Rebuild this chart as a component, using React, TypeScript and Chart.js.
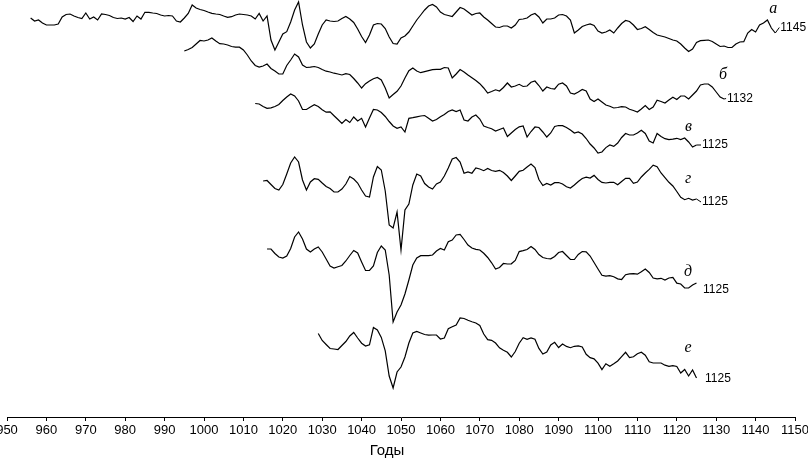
import React, { useEffect, useRef } from "react";
import { Chart, registerables } from "chart.js";

Chart.register(...registerables);

// ---- axis ----
const YEAR_MIN = 950;
const YEAR_MAX = 1150;
const YEAR_STEP = 10;
const AXIS_TITLE = "Годы";

// ---- series (hidden vertical axis, values increase downward; stacked chronologies) ----
const SERIES_LETTERS = ["а", "б", "в", "г", "д", "е"];
const SERIES_END_LABELS = ["1145", "1132", "1125", "1125", "1125", "1125"];
const SERIES_STARTS = [956, 995, 1013, 1015, 1016, 1029];

const SERIES_A = [
  18, 21, 20, 23, 25, 25, 25, 24, 17, 14.5,
  14, 16, 17.5, 18.5, 13, 19, 17, 20, 14, 14.5,
  15.5, 17.5, 18.5, 18, 19, 17.5, 21.5, 16, 19, 12.3,
  12.3, 13, 13.5, 15, 16, 15.5, 16, 21, 22, 18,
  13.5, 5, 8, 9.5, 10.5, 12, 13.3, 14, 14.5, 16,
  17.3, 16.7, 15, 14, 14.5, 15, 16, 19, 13.5, 21,
  16, 40, 50, 42, 34, 31.7, 22, 10, 2, 25,
  42, 48, 44, 34, 25, 20, 21, 21.5, 21, 18.5,
  16.5, 19, 22.5, 29, 36.5, 42.5, 35, 25, 23.5, 24,
  28.5, 37, 43.5, 44, 38, 36, 32, 26, 20, 15,
  10, 6, 4.5, 7, 12, 14.5, 15.5, 16.5, 12, 7.5,
  9, 12, 15, 13.5, 13, 17, 20, 23.5, 27, 27.5,
  26, 26, 28, 25, 19.5, 19, 18, 15, 13.5, 17,
  23, 19, 19, 18, 15, 14.5, 16, 20, 33, 30,
  26.5, 25, 24, 25.5, 31, 33, 32, 30, 33, 28,
  23.5, 20.5, 21.5, 25, 29.5, 28.5, 26.7, 29.5, 32.5, 35,
  36, 37, 38.5, 40, 41, 44, 48, 51.5, 49, 42.5,
  40.7, 40.3, 40, 41.5, 44, 46.5, 46, 47.5, 47.5, 44,
  42, 41.7, 33, 29.5, 32, 25, 23, 20, 28, 33,
];

const SERIES_B = [
  51, 49.5, 47.5, 44, 40.5, 41, 40, 38, 41, 43.7,
  44, 45, 46.5, 47.2, 47.2, 50, 55, 61, 65.5, 67,
  66, 64, 68.5, 71, 74, 74, 65.5, 60, 54, 57,
  65, 67.5, 67.2, 66.5, 67.5, 69.5, 71.2, 72, 73.2, 74,
  75, 73.7, 74.5, 78.5, 83, 88, 83.7, 81, 78.7, 77.5,
  80, 88, 98, 94.5, 91.3, 86, 78, 70.7, 68, 71,
  72.7, 71.7, 70.7, 69.7, 69.4, 69.4, 67.5, 68, 78, 74,
  69.5, 72, 75, 77.8, 80.5, 83.7, 88, 93, 91.5, 89.8,
  91, 87.5, 83, 87, 86, 84.3, 86.5, 86, 82.3, 81,
  85.5, 91, 87, 88.5, 89, 84.2, 83, 86, 93, 94,
  92, 89.5, 91, 99, 101.5, 99, 102, 105, 106.3, 108,
  107.5, 106.7, 107, 109.2, 110.5, 112, 109, 105.5, 109.5, 107,
  100.2, 101.5, 103, 100, 97.2, 99.5, 96, 96, 99, 95,
  91, 85, 84, 84, 87, 92, 97, 99,
];

const SERIES_C = [
  103.5, 104, 106.5, 108.3, 107.8, 106.5, 104.5, 100.5, 97, 94,
  96, 101, 109.5, 109.5, 107, 104.7, 106.5, 109.7, 112.2, 111.8,
  115.7, 119.5, 123.5, 119.5, 122.5, 117, 121, 118.3, 127, 118,
  109.5, 110, 112.5, 116.5, 121.5, 126, 128.3, 127, 132, 118.3,
  117.7, 116.8, 116, 115.5, 118.3, 121, 119.5, 116.7, 114.5, 111.5,
  110, 111.5, 110, 120, 121, 117, 115, 119, 126, 127.5,
  128.7, 131, 129.5, 128, 136.5, 133, 129.5, 126.8, 126, 137,
  131.5, 127, 127.5, 132, 137, 133, 126.5, 125.5, 125.7, 127.5,
  130, 133, 132, 134, 138.5, 144, 148, 153, 152, 147.6,
  145, 146.4, 143, 137.5, 133.5, 135, 135, 133, 130.2, 133.5,
  141, 143, 133.5, 136.5, 138.7, 139.7, 139.2, 138.3, 139.6, 138,
  142, 147, 145,
];

const SERIES_D = [
  181, 180.5, 184.5, 188.5, 190, 184.5, 174, 163, 157, 162,
  180, 190, 182, 178.7, 179.3, 183, 186.5, 188.5, 192, 192,
  189, 184, 176.5, 179, 183, 190, 196, 197, 177, 166.5,
  170, 191, 225, 228, 212, 250, 210, 204, 185, 174,
  176, 183.5, 187, 189, 184, 182, 176, 168, 159, 157.5,
  162, 173.3, 172, 173.2, 168, 169, 170.7, 168.5, 170.5, 171.3,
  170.3, 172.5, 176, 180.5, 176, 171.3, 170.3, 167, 164, 167.5,
  179.5, 185.5, 183.5, 185, 182.7, 182.5, 184, 186.8, 188, 185,
  181.5, 178.5, 177.2, 178, 175.4, 179.5, 182.4, 183, 182.3, 182.3,
  184.8, 181.5, 178.4, 178.4, 183.3, 182, 177, 173, 169.4, 165.2,
  166.8, 173, 177.7, 182.3, 186, 191.5, 197.3, 199.7, 198.3, 200,
  199,
];

const SERIES_E = [
  249, 249, 253.5, 257, 258, 256, 248.5, 237, 232, 239,
  249, 252, 249, 247, 252, 259, 266, 268, 266.7, 265.5,
  261, 255.5, 250.5, 253, 262, 270.5, 270.5, 266, 252.5, 246,
  250, 275, 322, 312, 305, 294, 280, 265, 258, 255.7,
  255.7, 255.7, 255, 251, 248.5, 250, 241.7, 240, 235, 234.5,
  239.5, 245, 248, 249.3, 250, 253.3, 257.5, 262.8, 269, 267.5,
  263.5, 264, 263.8, 260.5, 251.6, 250.6, 249.5, 246.5, 249.5, 254.5,
  257.5, 258.5, 258.8, 256.5, 252.5, 251.5, 255.5, 259.5, 259.5, 254.5,
  251.5, 251.8, 256, 262.5, 269, 275.3, 276.2, 275.6, 276.8, 278.8,
  279.5, 274.7, 273.8, 273.6, 274.2, 271.8, 269, 272.5, 278, 278.9,
  278.3, 280, 278, 277.3, 283.2, 284, 288, 288, 285, 283,
];

const SERIES_F = [
  333.5, 340.5, 344.5, 348.5, 349, 349.5, 345.5, 341.5, 336, 332.5,
  338, 343.2, 346, 344.8, 327.5, 330, 337.4, 350.8, 376, 388,
  372, 367, 357, 343, 333, 331.5, 333, 334.5, 335.2, 335,
  335, 339, 338, 328.7, 326.8, 325, 318, 318.5, 320.3, 321.7,
  323, 325.5, 334, 339.7, 340.3, 343, 347.8, 350.2, 352.3, 357,
  351.5, 343.2, 337.7, 339.3, 338, 339.3, 348.4, 354, 352, 345,
  342.3, 347.5, 344, 346.4, 347.7, 346.3, 345.9, 347, 354.3, 357.7,
  358.8, 363.2, 369.6, 363.7, 366.2, 363.7, 361, 356.6, 352.3, 357.5,
  356.8, 353.8, 352.3, 355.2, 361.7, 363, 363, 363, 365.2, 366.3,
  365.6, 366.5, 373, 369.5, 376, 370, 378,
];

const SERIES_VALUES = [SERIES_A, SERIES_B, SERIES_C, SERIES_D, SERIES_E, SERIES_F];
const Y_RANGE_MAX = 417;

// ---- label placement (style, px offsets from each series' last point) ----
const LABEL_STYLE = [
  { tdx: 5, tdy: -5.5, ldx: -2, ldy: -24, leader: true },
  { tdx: 3, tdy: -0.5, ldx: -1, ldy: -24, leader: true },
  { tdx: 5.5, tdy: 0, ldx: -8, ldy: -18, leader: true },
  { tdx: 5.5, tdy: 3, ldx: -8.5, ldy: -20.5, leader: true },
  { tdx: 6.5, tdy: 7, ldx: -8.5, ldy: -11, leader: false },
  { tdx: 8.5, tdy: 1, ldx: -8.5, ldy: -30, leader: false },
];
const TITLE_POS = { x: 387, y: 451 };

const labelPlugin = {
  id: "seriesLabels",
  afterDraw(chart: any) {
    const ctx = chart.ctx;
    ctx.save();
    chart.data.datasets.forEach((_ds: any, i: number) => {
      const meta = chart.getDatasetMeta(i);
      const pts = meta.data;
      if (!pts.length) return;
      const last = pts[pts.length - 1];
      const st = LABEL_STYLE[i];
      const tx = last.x + st.tdx;
      const ty = last.y + st.tdy;
      if (st.leader) {
        ctx.strokeStyle = "#000";
        ctx.lineWidth = 1;
        ctx.beginPath();
        ctx.moveTo(last.x, last.y);
        ctx.lineTo(tx - 1, ty);
        ctx.stroke();
      }
      ctx.fillStyle = "#000";
      ctx.font = "12px 'Liberation Sans', Arial, sans-serif";
      ctx.textAlign = "left";
      ctx.textBaseline = "middle";
      ctx.fillText(SERIES_END_LABELS[i], tx, ty);
      ctx.font = "italic 16px 'Liberation Serif', 'Times New Roman', serif";
      ctx.textAlign = "center";
      ctx.fillText(SERIES_LETTERS[i], last.x + st.ldx, last.y + st.ldy);
    });
    ctx.font = "15px 'Liberation Sans', Arial, sans-serif";
    ctx.textAlign = "center";
    ctx.textBaseline = "middle";
    ctx.fillStyle = "#000";
    ctx.fillText(AXIS_TITLE, TITLE_POS.x, TITLE_POS.y);
    ctx.restore();
  },
};

export default function App() {
  const canvasRef = useRef<HTMLCanvasElement | null>(null);

  useEffect(() => {
    const canvas = canvasRef.current;
    if (!canvas) return;
    Chart.defaults.font.family = "'Liberation Sans', Arial, sans-serif";
    const datasets = SERIES_VALUES.map((vals, i) => ({
      label: SERIES_LETTERS[i],
      data: vals.map((v, k) => ({ x: SERIES_STARTS[i] + k, y: v })),
      borderColor: "#000",
      borderWidth: 1.2,
      pointRadius: 0,
      tension: 0,
      fill: false,
    }));
    const chart = new Chart(canvas, {
      type: "line",
      data: { datasets },
      options: {
        animation: false,
        responsive: false,
        maintainAspectRatio: false,
        devicePixelRatio: 1,
        layout: { padding: { left: 7, right: 13, top: 0, bottom: 0 } },
        plugins: {
          legend: { display: false },
          tooltip: { enabled: false },
          title: { display: false },
        },
        scales: {
          x: {
            type: "linear",
            min: YEAR_MIN,
            max: YEAR_MAX,
            ticks: {
              stepSize: YEAR_STEP,
              autoSkip: false,
              maxRotation: 0,
              color: "#000",
              padding: 2,
              font: { size: 13 },
              callback: (v: any) => String(v),
            },
            grid: {
              drawOnChartArea: false,
              drawTicks: true,
              tickLength: 4,
              color: "#000",
            },
            border: { display: true, color: "#000", width: 1 },
            title: { display: false },
            afterFit: (s: any) => {
              s.paddingLeft = 0;
              s.paddingRight = 0;
              s.height = 41;
            },
          },
          y: {
            display: false,
            reverse: true,
            min: 0,
            max: Y_RANGE_MAX,
          },
        },
      },
      plugins: [labelPlugin],
    } as any);
    return () => chart.destroy();
  }, []);

  return (
    <div
      style={{
        position: "fixed",
        left: 0,
        top: 0,
        width: 808,
        height: 458,
        background: "#fff",
      }}
    >
      <canvas ref={canvasRef} width={808} height={458} style={{ display: "block" }} />
    </div>
  );
}
